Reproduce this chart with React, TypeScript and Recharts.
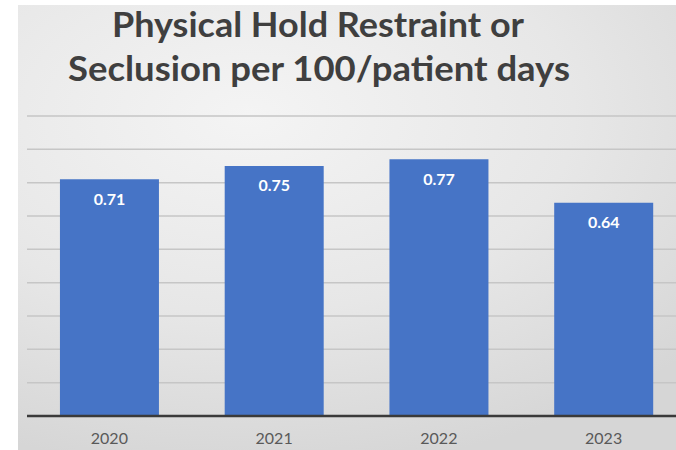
import { BarChart, Bar, XAxis, YAxis, CartesianGrid, LabelList } from 'recharts';

const years = ['2020', '2021', '2022', '2023'];
const rates = [0.71, 0.75, 0.77, 0.64];
const yTicks = [0, 0.1, 0.2, 0.3, 0.4, 0.5, 0.6, 0.7, 0.8, 0.9];
const titleLines = ['Physical Hold Restraint or', 'Seclusion per 100/patient days'];

const data = years.map((year, i) => ({ year, rate: rates[i] }));

export default function App() {
  return (
    <div
      style={{
        position: 'fixed',
        left: 0,
        top: 0,
        width: 676,
        height: 450,
        overflow: 'hidden',
        background: '#ffffff',
      }}
    >
      {/* grey slide backdrop, the picture is cropped with a white edge top/left */}
      <div
        style={{
          position: 'absolute',
          left: 18,
          top: 5,
          right: 0,
          bottom: 0,
          background:
            'radial-gradient(ellipse 90% 80% at 35% 25%, #f4f4f4 0%, #e7e7e7 55%, #d6d6d6 100%)',
        }}
      />
      <svg
        width={676}
        height={110}
        style={{ position: 'absolute', left: 0, top: 0 }}
      >
        <text
          x={318}
          y={37}
          textAnchor="middle"
          fontFamily="Lato, 'Open Sans', sans-serif"
          fontWeight={700}
          fontSize={34}
          fill="#3f3f3f"
          textLength={412}
          lengthAdjust="spacingAndGlyphs"
        >
          {titleLines[0]}
        </text>
        <text
          x={319}
          y={81}
          textAnchor="middle"
          fontFamily="Lato, 'Open Sans', sans-serif"
          fontWeight={700}
          fontSize={34}
          fill="#3f3f3f"
          textLength={502}
          lengthAdjust="spacingAndGlyphs"
        >
          {titleLines[1]}
        </text>
      </svg>
      <div style={{ position: 'absolute', left: 0, top: 0 }}>
        <BarChart
          width={700}
          height={450}
          data={data}
          margin={{ top: 116, right: 14, left: 27, bottom: 0 }}
          barCategoryGap="20%"
        >
          <CartesianGrid
            vertical={false}
            stroke="#c6c6c6"
            strokeWidth={1.5}
          />
          <YAxis hide domain={[0, 0.9]} ticks={yTicks} />
          <XAxis
            dataKey="year"
            height={34}
            tickLine={false}
            axisLine={{ stroke: '#3a3a3a', strokeWidth: 2.5 }}
            tick={{ fontSize: 16, fill: '#595959', fontFamily: "Lato, 'Open Sans', sans-serif" }}
            tickMargin={11}
          />
          <Bar dataKey="rate" fill="#4674c6" isAnimationActive={false}>
            <LabelList
              dataKey="rate"
              position="insideTop"
              offset={14}
              fill="#ffffff"
              fontSize={16}
              fontWeight={700}
              fontFamily="Lato, 'Open Sans', sans-serif"
              formatter={(v: number) => v.toFixed(2)}
            />
          </Bar>
        </BarChart>
      </div>
    </div>
  );
}
